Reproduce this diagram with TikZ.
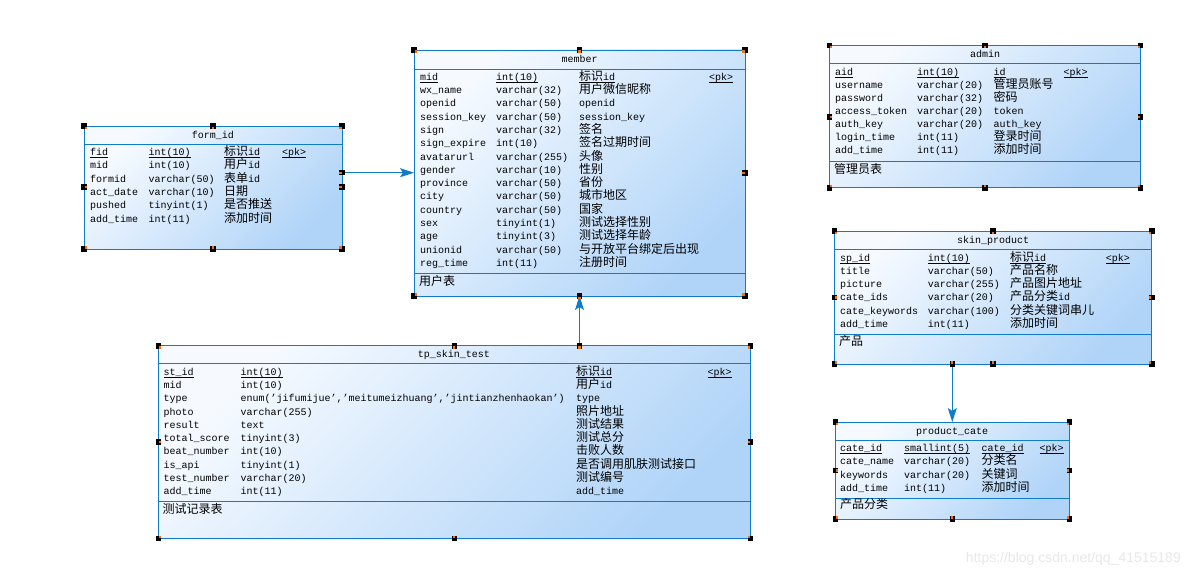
\documentclass[tikz,border=0pt]{standalone}
\usepackage{fontspec}
\setmainfont{Liberation Mono}
\newfontfamily\cjkfont{Noto Sans CJK SC}
\newfontfamily\wmfont{Liberation Sans}
\usetikzlibrary{arrows.meta}
\definecolor{bordblue}{RGB}{16,124,200}
\definecolor{shlight}{RGB}{246,250,255}
\definecolor{shdark}{RGB}{176,212,248}
\definecolor{hdlorange}{RGB}{235,115,30}
\definecolor{wmgray}{RGB}{232,232,232}
\newcommand\zh[1]{{\cjkfont\fontsize{12pt}{12pt}\selectfont #1}}
\newcommand\uln[1]{\setbox0\hbox{#1}\rlap{\rule[-2.4pt]{\wd0}{0.7pt}}\box0}
\newcommand\setcols[6]{\def\cn{#1}\def\ct{#2}\def\cc{#3}\def\cp{#4}\def\ybase{#5}\def\ystep{#6}}
\newcommand\erow[6]{%
 \node[cell] (#1n) at ({\cn},{\ybase+\ystep*#2}) {#3};
 \node[cell] (#1t) at ({\ct},{\ybase+\ystep*#2}) {#4};
 \node[cell] (#1c) at ({\cc},{\ybase+\ystep*#2}) {#5};
 \if\relax\detokenize{#6}\relax\else\node[cell] (#1p) at ({\cp},{\ybase+\ystep*#2}) {#6};\fi}
\newcommand\hdl[4]{%
 \fill[black] ({#1-2.75},{#2-2.75}) rectangle ({#1+2.75},{#2+2.75});
 \fill[hdlorange] ({#1+(#3)*1.6-1.1},{#2+(#4)*1.6-1.1}) rectangle ({#1+(#3)*1.6+1.1},{#2+(#4)*1.6+1.1});}
\begin{document}
\begin{tikzpicture}[x=1pt,y=-1pt,
  font=\fontsize{10pt}{12pt}\selectfont,
  tbl/.style={draw=bordblue, line width=0.9pt, top color=shlight, bottom color=shdark, shading angle=45,
    anchor=north west, inner sep=0pt, outer sep=0pt},
  div/.style={draw=bordblue, line width=0.9pt},
  cell/.style={anchor=west, inner sep=0pt, text height=8pt, text depth=2pt},
  ttl/.style={anchor=center, inner sep=0pt, text height=8pt, text depth=2pt},
  conn/.style={draw=bordblue, line width=1pt, -{Stealth[length=14pt,width=9pt,inset=3pt]}},
  wm/.style={font=\wmfont\fontsize{14pt}{16pt}\selectfont, text=wmgray, inner sep=0pt}]
\useasboundingbox[fill=white] (0,0) rectangle (1189,578);

% ---------- boxes ----------
\node[tbl, minimum width=331pt, minimum height=246pt] (member) at (414,50) {};
\node[tbl, minimum width=258pt, minimum height=123pt] (form_id) at (84,126) {};
\node[tbl, minimum width=311pt, minimum height=142.5pt] (admin) at (829,45.3) {};
\node[tbl, minimum width=317.5pt, minimum height=133pt] (skin_product) at (834.3,231) {};
\node[tbl, minimum width=234pt, minimum height=97pt] (product_cate) at (835.3,422) {};
\node[tbl, minimum width=592pt, minimum height=192.5pt] (tp_skin_test) at (158.3,345.8) {};

% ---------- dividers ----------
\draw[div] (member.west |- 0,69.3) -- (member.east |- 0,69.3);
\draw[div] (member.west |- 0,273.3) -- (member.east |- 0,273.3);
\draw[div] (form_id.west |- 0,144) -- (form_id.east |- 0,144);
\draw[div] (admin.west |- 0,63.3) -- (admin.east |- 0,63.3);
\draw[div] (admin.west |- 0,161.3) -- (admin.east |- 0,161.3);
\draw[div] (skin_product.west |- 0,249) -- (skin_product.east |- 0,249);
\draw[div] (skin_product.west |- 0,334) -- (skin_product.east |- 0,334);
\draw[div] (product_cate.west |- 0,440.3) -- (product_cate.east |- 0,440.3);
\draw[div] (product_cate.west |- 0,498) -- (product_cate.east |- 0,498);
\draw[div] (tp_skin_test.west |- 0,363.3) -- (tp_skin_test.east |- 0,363.3);
\draw[div] (tp_skin_test.west |- 0,501.3) -- (tp_skin_test.east |- 0,501.3);

% ---------- titles ----------
\node[ttl] (member-title) at (579.5,59.7) {member};
\node[ttl] (formid-title) at (213,135) {form\_id};
\node[ttl] (admin-title) at (985,54.3) {admin};
\node[ttl] (skinp-title) at (993,240) {skin\_product};
\node[ttl] (pcate-title) at (952,431) {product\_cate};
\node[ttl] (tpst-title) at (454,354.5) {tp\_skin\_test};

% ---------- member ----------
\setcols{420}{496}{579}{709}{77.3}{13.29}
\erow{mA}{0}{\uln{mid}}{\uln{int(10)}}{\uln{\zh{标识}id}}{\uln{<pk>}}
\erow{mB}{1}{wx\_name}{varchar(32)}{\zh{用户微信昵称}}{}
\erow{mC}{2}{openid}{varchar(50)}{openid}{}
\erow{mD}{3}{session\_key}{varchar(50)}{session\_key}{}
\erow{mE}{4}{sign}{varchar(32)}{\zh{签名}}{}
\erow{mF}{5}{sign\_expire}{int(10)}{\zh{签名过期时间}}{}
\erow{mG}{6}{avatarurl}{varchar(255)}{\zh{头像}}{}
\erow{mH}{7}{gender}{varchar(10)}{\zh{性别}}{}
\erow{mI}{8}{province}{varchar(50)}{\zh{省份}}{}
\erow{mJ}{9}{city}{varchar(50)}{\zh{城市地区}}{}
\erow{mK}{10}{country}{varchar(50)}{\zh{国家}}{}
\erow{mL}{11}{sex}{tinyint(1)}{\zh{测试选择性别}}{}
\erow{mM}{12}{age}{tinyint(3)}{\zh{测试选择年龄}}{}
\erow{mN}{13}{unionid}{varchar(50)}{\zh{与开放平台绑定后出现}}{}
\erow{mO}{14}{reg\_time}{int(11)}{\zh{注册时间}}{}
\node[cell] (member-foot) at (419,282) {\zh{用户表}};

% ---------- form_id ----------
\setcols{90}{148.3}{224}{282}{152.3}{13.4}
\erow{fA}{0}{\uln{fid}}{\uln{int(10)}}{\uln{\zh{标识}id}}{\uln{<pk>}}
\erow{fB}{1}{mid}{int(10)}{\zh{用户}id}{}
\erow{fC}{2}{formid}{varchar(50)}{\zh{表单}id}{}
\erow{fD}{3}{act\_date}{varchar(10)}{\zh{日期}}{}
\erow{fE}{4}{pushed}{tinyint(1)}{\zh{是否推送}}{}
\erow{fF}{5}{add\_time}{int(11)}{\zh{添加时间}}{}

% ---------- admin ----------
\setcols{835}{917}{993.3}{1063.3}{72.3}{13.1}
\erow{aA}{0}{\uln{aid}}{\uln{int(10)}}{\uln{id}}{\uln{<pk>}}
\erow{aB}{1}{username}{varchar(20)}{\zh{管理员账号}}{}
\erow{aC}{2}{password}{varchar(32)}{\zh{密码}}{}
\erow{aD}{3}{access\_token}{varchar(20)}{token}{}
\erow{aE}{4}{auth\_key}{varchar(20)}{auth\_key}{}
\erow{aF}{5}{login\_time}{int(11)}{\zh{登录时间}}{}
\erow{aG}{6}{add\_time}{int(11)}{\zh{添加时间}}{}
\node[cell] (admin-foot) at (834,170) {\zh{管理员表}};

% ---------- skin_product ----------
\setcols{840}{927.7}{1010}{1105.7}{258.3}{13.2}
\erow{sA}{0}{\uln{sp\_id}}{\uln{int(10)}}{\uln{\zh{标识}id}}{\uln{<pk>}}
\erow{sB}{1}{title}{varchar(50)}{\zh{产品名称}}{}
\erow{sC}{2}{picture}{varchar(255)}{\zh{产品图片地址}}{}
\erow{sD}{3}{cate\_ids}{varchar(20)}{\zh{产品分类}id}{}
\erow{sE}{4}{cate\_keywords}{varchar(100)}{\zh{分类关键词串儿}}{}
\erow{sF}{5}{add\_time}{int(11)}{\zh{添加时间}}{}
\node[cell] (skinp-foot) at (839,342.3) {\zh{产品}};

% ---------- product_cate ----------
\setcols{840}{904}{981.3}{1039.3}{448.7}{13.2}
\erow{pA}{0}{\uln{cate\_id}}{\uln{smallint(5)}}{\uln{cate\_id}}{\uln{<pk>}}
\erow{pB}{1}{cate\_name}{varchar(20)}{\zh{分类名}}{}
\erow{pC}{2}{keywords}{varchar(20)}{\zh{关键词}}{}
\erow{pD}{3}{add\_time}{int(11)}{\zh{添加时间}}{}
\node[cell] (pcate-foot) at (840,505.7) {\zh{产品分类}};

% ---------- tp_skin_test ----------
\setcols{163.3}{240.3}{576}{707.3}{372.3}{13.26}
\erow{tA}{0}{\uln{st\_id}}{\uln{int(10)}}{\uln{\zh{标识}id}}{\uln{<pk>}}
\erow{tB}{1}{mid}{int(10)}{\zh{用户}id}{}
\erow{tC}{2}{type}{enum('jifumijue','meitumeizhuang','jintianzhenhaokan')}{type}{}
\erow{tD}{3}{photo}{varchar(255)}{\zh{照片地址}}{}
\erow{tE}{4}{result}{text}{\zh{测试结果}}{}
\erow{tF}{5}{total\_score}{tinyint(3)}{\zh{测试总分}}{}
\erow{tG}{6}{beat\_number}{int(10)}{\zh{击败人数}}{}
\erow{tH}{7}{is\_api}{tinyint(1)}{\zh{是否调用肌肤测试接口}}{}
\erow{tI}{8}{test\_number}{varchar(20)}{\zh{测试编号}}{}
\erow{tJ}{9}{add\_time}{int(11)}{add\_time}{}
\node[cell] (tpst-foot) at (162.3,510.7) {\zh{测试记录表}};

% ---------- connectors ----------
\draw[conn] (form_id.east |- 0,172.7) -- (member.west |- 0,172.7);
\draw[conn] (tp_skin_test.north -| member.south) -- (member.south);
\draw[conn] (skin_product.south -| product_cate.north) -- (product_cate.north);

% ---------- handles ----------
% member
\hdl{414}{50}{1}{1}\hdl{745}{50}{-1}{1}\hdl{414}{296}{1}{-1}\hdl{745}{296}{-1}{-1}
\hdl{579.5}{50}{0}{1}\hdl{579.5}{296}{0}{1}\hdl{745}{173}{-1}{0}
% form_id
\hdl{84}{126}{1}{1}\hdl{342}{126}{-1}{1}\hdl{84}{249}{1}{-1}\hdl{342}{249}{-1}{-1}
\hdl{213}{126}{0}{1}\hdl{213}{249}{0}{-1}\hdl{84}{187}{1}{0}\hdl{342}{187}{-1}{0}\hdl{342}{172.7}{-1}{0}
% admin
\hdl{829.3}{45.3}{1}{1}\hdl{1140.3}{45.3}{-1}{1}\hdl{829.3}{187.8}{1}{-1}\hdl{1140.3}{187.8}{-1}{-1}
\hdl{985}{45.3}{0}{1}\hdl{985}{187.8}{0}{-1}\hdl{829.3}{117}{1}{0}\hdl{1140.3}{117}{-1}{0}
% skin_product
\hdl{834.3}{231}{1}{1}\hdl{1151.8}{231}{-1}{1}\hdl{834.3}{364}{1}{-1}\hdl{1151.8}{364}{-1}{-1}
\hdl{993}{231}{0}{1}\hdl{993}{364}{0}{-1}\hdl{834.3}{297.5}{1}{0}\hdl{1151.8}{297.5}{-1}{0}\hdl{952.3}{364}{0}{-1}
% product_cate
\hdl{835.3}{422}{1}{1}\hdl{1069.3}{422}{-1}{1}\hdl{835.3}{519}{1}{-1}\hdl{1069.3}{519}{-1}{-1}
\hdl{952.3}{519}{0}{-1}\hdl{835.3}{470.5}{1}{0}\hdl{1069.3}{470.5}{-1}{0}
% tp_skin_test
\hdl{158.3}{345.8}{1}{1}\hdl{750.3}{345.8}{-1}{1}\hdl{158.3}{538.3}{1}{-1}\hdl{750.3}{538.3}{-1}{-1}
\hdl{454.3}{345.8}{0}{1}\hdl{454.3}{538.3}{0}{-1}\hdl{158.3}{442}{1}{0}\hdl{750.3}{442}{-1}{0}\hdl{579.5}{345.8}{0}{1}

% ---------- watermark ----------
\node[wm, anchor=east] (wm) at (1181,559) {https://blog.csdn.net/qq\_41515189};
\end{tikzpicture}
\end{document}
